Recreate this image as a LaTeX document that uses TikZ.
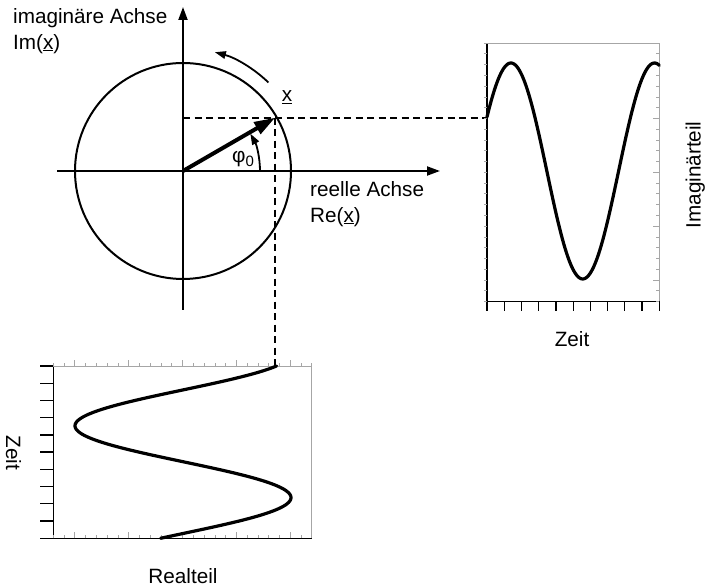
\documentclass[tikz,border=0pt]{standalone}
\usepackage{fontspec}
\setmainfont{Liberation Sans}
\usetikzlibrary{arrows.meta}

\begin{document}
\begin{tikzpicture}[
  x=1pt, y=1pt,
  font=\fontsize{20.7}{25.5}\selectfont,
  axis/.style  = {line width=2pt, -{Triangle[length=13pt,width=9pt]}},
  vec/.style   = {line width=4pt, -{Triangle[length=21pt,width=13pt]}},
  turn/.style  = {line width=1.8pt, -{Triangle[length=11pt,width=7.5pt]}},
  ring/.style  = {line width=2pt},
  proj/.style  = {line width=2pt, dash pattern=on 7pt off 4.5pt},
  wave/.style  = {line width=3.2pt, line join=round, line cap=round},
  frame/.style = {line width=1.3pt},
  soft/.style  = {line width=0.7pt, gray!70},
  lbl/.style   = {inner sep=0pt, align=left}
]
\useasboundingbox (0,0) rectangle (705,588);
%% -- Pointer diagram --
\coordinate (O) at (183,417);
\coordinate (X) at (275.2,470.3);
\draw[ring] (O) circle[radius=108];
\draw[axis] (57,417) -- (440,417);
\draw[axis] (183,278) -- (183,581);
\draw[vec] (O) -- (X);
\draw[turn] ([shift={(0:77)}]O) arc[start angle=0,end angle=29,radius=77];
\draw[turn] ([shift={(46:123)}]O) arc[start angle=46,end angle=75,radius=123];
%% -- Corners of both time graphs --
\coordinate (rsw) at (487,286.5);
\coordinate (rne) at (659.3,544.9);
\coordinate (lsw) at (53.3,49.7);
\coordinate (lne) at (311.7,222);
%% -- Projections --
\draw[proj] (O |- X) -- (X -| rsw);
\draw[proj] (X) -- (X |- lne);
%% -- Imaginary part over time --
\draw[frame] (rsw |- rne) -- (rsw) -- (rsw -| rne);
\draw[soft] (rsw |- rne) -- (rne) -- (rne |- rsw);
\foreach \k in {0,...,10}
  \draw[frame] (487+\k*17.23,286.5) -- ++(0,-10);
\foreach \i in {0,...,24}{
  \pgfmathsetmacro\len{mod(\i,5)==2 ? 6 : 3}
  \draw[soft] (487,286.5+\i*10.77) -- ++(-3,0);
  \draw[soft] (659.3,286.5+\i*10.77) -- ++(-\len,0);}
\draw[wave] plot[domain=0:172.3,samples=140]
  ({487+\x},{417+108*sin(30+2.5073*\x)});
%% -- Real part over time --
\draw[frame] (lsw |- lne) -- (lsw) -- (lsw -| lne);
\draw[soft] (lsw |- lne) -- (lne) -- (lne |- lsw);
\foreach \k in {0,...,10}
  \draw[frame] (53.3,49.7+\k*17.23) -- ++(-13,0);
\foreach \i in {0,...,24}{
  \pgfmathsetmacro\len{mod(\i,5)==2 ? 6 : 3}
  \draw[soft] (53.3+\i*10.77,222) -- ++(0,\len);
  \draw[soft] (53.3+\i*10.77,49.7) -- ++(0,\len);}
\draw[wave] plot[domain=0:172.3,samples=140]
  ({183+108*cos(30+2.5073*\x)},{222-\x});
%% -- Labels --
\node[lbl, anchor=north west] (imlbl) at (13,579.5)
  {imagin\"are Achse\\Im(\underline{x})};
\node[lbl, anchor=north west] (relbl) at (310,406.5)
  {reelle Achse\\Re(\underline{x})};
\node[lbl, anchor=base] (xlbl) at (287,486) {\underline{x}};
\node[lbl] (philbl) at (243,429) {φ\raisebox{-0.35ex}{\fontsize{15}{15}\selectfont 0}};
\node[lbl, anchor=base] (rtime) at (572,241) {Zeit};
\node[lbl, anchor=base, rotate=90] (imtl) at (700.5,413) {Imagin\"arteil};
\node[lbl, anchor=base, rotate=-90] (ltime) at (6,135) {Zeit};
\node[lbl, anchor=base] (retl) at (183,4) {Realteil};
\end{tikzpicture}
\end{document}
